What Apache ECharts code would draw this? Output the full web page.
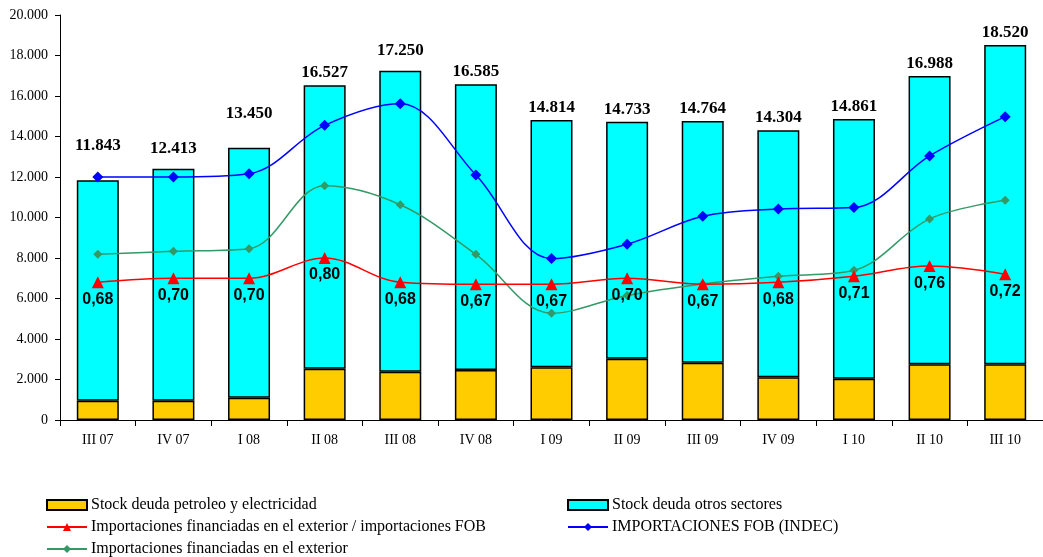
<!DOCTYPE html>
<html>
<head>
<meta charset="utf-8">
<script src="https://cdn.jsdelivr.net/npm/echarts@6/dist/echarts.min.js"></script>
<style>
  html, body { margin: 0; padding: 0; background: #fff; }
  #chart { width: 1043px; height: 557px; }
</style>
</head>
<body>
<div id="chart"></div>
<script>
// Trimestres
const categories = ['III 07', 'IV 07', 'I 08', 'II 08', 'III 08', 'IV 08', 'I 09', 'II 09', 'III 09', 'IV 09', 'I 10', 'II 10', 'III 10'];

// Stock total de deuda comercial (US$ millones)
const stockTotal = [11843, 12413, 13450, 16527, 17250, 16585, 14814, 14733, 14764, 14304, 14861, 16988, 18520];

// Stock deuda petroleo y electricidad
const stockPetroleo = [950, 950, 1100, 2530, 2380, 2470, 2600, 3030, 2830, 2110, 2040, 2750, 2750];

// IMPORTACIONES FOB (INDEC)
const importacionesFob = [12000, 12000, 12160, 14550, 15620, 12100, 7970, 8680, 10060, 10420, 10490, 13040, 14980];

// Importaciones financiadas en el exterior
const importFinanciadas = [8180, 8330, 8460, 11570, 10630, 8180, 5270, 6150, 6720, 7100, 7390, 9930, 10850];

// Importaciones financiadas en el exterior / importaciones FOB
const ratioFinanciadas = [0.68, 0.70, 0.70, 0.80, 0.68, 0.67, 0.67, 0.70, 0.67, 0.68, 0.71, 0.76, 0.72];

// Tramo "otros sectores" = total - petroleo y electricidad
const stockOtros = stockTotal.map((t, i) => t - stockPetroleo[i]);

const fmtMiles = v => String(Math.round(v)).replace(/\B(?=(\d{3})+(?!\d))/g, '.');
const fmtRatio = v => v.toFixed(2).replace('.', ',');

const serif = 'Liberation Serif, Times New Roman, serif';
const sans = 'Liberation Sans, Arial, sans-serif';

const NAMES = {
  petroleo: 'Stock deuda petroleo y electricidad',
  otros: 'Stock deuda otros sectores',
  ratio: 'Importaciones financiadas en el exterior / importaciones FOB',
  fob: 'IMPORTACIONES FOB (INDEC)',
  financ: 'Importaciones financiadas en el exterior'
};

// Extra lift for the total labels sitting over the first bars
const totalLabelLift = { 0: 22, 1: 8, 2: 22, 4: 8 };

// One legend entry per row/column slot
const legendSlot = (name, left, top, icon) => ({
  left, top, orient: 'horizontal',
  itemWidth: 40, itemHeight: 10, itemGap: 0,
  textStyle: { fontFamily: serif, fontSize: 16, color: '#000', padding: [0, 0, 0, -1] },
  data: [icon ? { name, icon } : name]
});

const chart = echarts.init(document.getElementById('chart'), null, { renderer: 'canvas' });

chart.setOption({
  animation: false,
  backgroundColor: '#ffffff',
  grid: { left: 60, top: 15, width: 987, height: 405, containLabel: false },
  legend: [
    legendSlot(NAMES.petroleo, 41, 492, 'rect'),
    legendSlot(NAMES.ratio, 41, 514),
    legendSlot(NAMES.financ, 41, 536),
    legendSlot(NAMES.otros, 562, 492, 'rect'),
    legendSlot(NAMES.fob, 562, 514)
  ],
  xAxis: {
    type: 'category',
    data: categories,
    boundaryGap: true,
    axisLine: { lineStyle: { color: '#000', width: 1 } },
    axisTick: { show: true, interval: 0, length: 6, lineStyle: { color: '#000' } },
    axisLabel: { color: '#000', fontFamily: serif, fontSize: 14, margin: 13, interval: 0 }
  },
  yAxis: [
    {
      type: 'value', min: 0, max: 20000, interval: 2000,
      axisLine: { show: true, lineStyle: { color: '#000', width: 1 } },
      axisTick: { show: true, length: 5, lineStyle: { color: '#000' } },
      splitLine: { show: false },
      axisLabel: { color: '#000', fontFamily: serif, fontSize: 14, margin: 12, formatter: fmtMiles }
    },
    { type: 'value', min: 0, max: 2, show: false, splitLine: { show: false } }
  ],
  series: [
    {
      name: NAMES.petroleo, type: 'bar', stack: 'deuda', barWidth: 42,
      data: stockPetroleo,
      itemStyle: { color: '#FFCC00', borderColor: '#000', borderWidth: 1.5 },
      z: 2
    },
    {
      name: NAMES.otros, type: 'bar', stack: 'deuda', barWidth: 42,
      data: stockOtros.map((v, i) => ({
        value: v,
        label: { distance: 4 + (totalLabelLift[i] || 0) }
      })),
      itemStyle: { color: '#00FFFF', borderColor: '#000', borderWidth: 1.5 },
      label: {
        show: true, position: 'top', distance: 4,
        fontFamily: serif, fontWeight: 'bold', fontSize: 17, color: '#000',
        formatter: p => fmtMiles(stockTotal[p.dataIndex])
      },
      z: 2
    },
    {
      name: NAMES.ratio, type: 'line', yAxisIndex: 1, smooth: 0.35,
      data: ratioFinanciadas,
      symbol: 'triangle', symbolSize: 12,
      lineStyle: { color: '#FF0000', width: 1.5 },
      itemStyle: { color: '#FF0000' },
      label: {
        show: true, position: 'bottom', distance: 3,
        fontFamily: sans, fontWeight: 'bold', fontSize: 16, color: '#000',
        formatter: p => fmtRatio(p.value)
      },
      z: 5
    },
    {
      name: NAMES.fob, type: 'line', smooth: 0.35,
      data: importacionesFob,
      symbol: 'diamond', symbolSize: 11,
      lineStyle: { color: '#0000FF', width: 1.5 },
      itemStyle: { color: '#0000FF' },
      z: 5
    },
    {
      name: NAMES.financ, type: 'line', smooth: 0.35,
      data: importFinanciadas,
      symbol: 'diamond', symbolSize: 9,
      lineStyle: { color: '#339966', width: 1.5 },
      itemStyle: { color: '#339966' },
      z: 4
    }
  ]
});
</script>
</body>
</html>
